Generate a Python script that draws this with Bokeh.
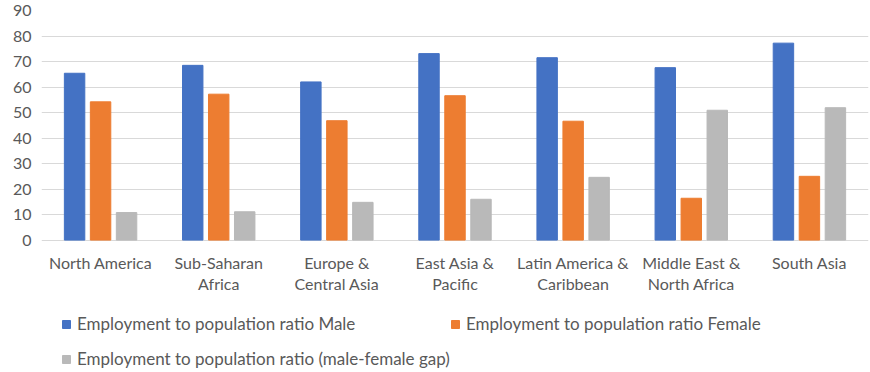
from bokeh.plotting import figure
from bokeh.models import ColumnDataSource, Range1d, FixedTicker, Legend, LegendItem
from bokeh.core.properties import value
from bokeh.embed import file_html
from bokeh.resources import INLINE

regions = ["North America", "Sub-Saharan\nAfrica", "Europe &\nCentral Asia", "East Asia &\nPacific",
           "Latin America &\nCaribbean", "Middle East &\nNorth Africa", "South Asia"]
male = [65.4, 68.5, 62.0, 73.1, 71.5, 67.6, 77.2]
female = [54.2, 57.2, 46.8, 56.6, 46.6, 16.4, 25.0]
gap = [10.8, 11.1, 14.8, 16.0, 24.6, 50.9, 51.9]
series_names = ["Employment to population ratio Male", "Employment to population ratio Female",
                "Employment to population ratio (male-female gap)"]
colors = ["#4472C4", "#ED7D31", "#B9B9B9"]
y_ticks = [0, 10, 20, 30, 40, 50, 60, 70, 80, 90]

FONT = "Lato"
TXT = "#595959"

# frame covers the whole lower area; values below 0 hold the category labels and legend
Y_BOTTOM = -51.9
p = figure(frame_width=827, frame_height=362, output_backend="svg", toolbar_location=None,
           x_range=Range1d(0, len(regions)), y_range=Range1d(Y_BOTTOM, 90),
           x_axis_location=None,
           min_border_left=41, min_border_right=2, min_border_top=10, min_border_bottom=0)
p.outline_line_color = None
p.background_fill_color = "white"
p.border_fill_color = "white"

centers = [i + 0.5 for i in range(len(regions))]
offsets = [-0.22, 0.0, 0.22]
bw = 0.173
renderers = []
for vals, off, col in zip([male, female, gap], offsets, colors):
    src = ColumnDataSource(dict(x=[c + off for c in centers], top=vals))
    r = p.vbar(x="x", top="top", width=bw, bottom=0, source=src, fill_color=col,
               line_color=col)
    renderers.append(r)

# category labels
lab_src = ColumnDataSource(dict(x=centers, y=[-5.0] * len(centers), text=regions))
p.text(x="x", y="y", text="text", source=lab_src, text_align="center", text_baseline="top",
       text_font=value(FONT), text_font_size="16px", text_color=TXT, text_line_height=1.13)

p.xgrid.grid_line_color = None
p.yaxis.ticker = FixedTicker(ticks=y_ticks)
p.yaxis.axis_line_color = None
p.yaxis.major_tick_line_color = None
p.yaxis.minor_tick_line_color = None
p.yaxis.major_tick_out = 0
p.yaxis.major_tick_in = 0
p.yaxis.major_label_text_font = FONT
p.yaxis.major_label_text_font_size = "16px"
p.yaxis.major_label_text_color = TXT
p.yaxis.major_label_standoff = 10
p.ygrid.grid_line_color = "#D9D9D9"
p.ygrid.grid_line_width = 1

items = [LegendItem(label=n, renderers=[r]) for n, r in zip(series_names, renderers)]
legend = Legend(items=items, ncols=2, orientation="horizontal", location=(20, -4),
                label_text_font=FONT, label_text_font_size="17px", label_text_color=TXT,
                glyph_width=10, glyph_height=10, label_width=373, label_standoff=6,
                spacing=0, padding=0, margin=0, border_line_color=None,
                background_fill_alpha=0, label_height=35)
p.add_layout(legend, "center")

open("out.html", "w").write(file_html(p, INLINE))
